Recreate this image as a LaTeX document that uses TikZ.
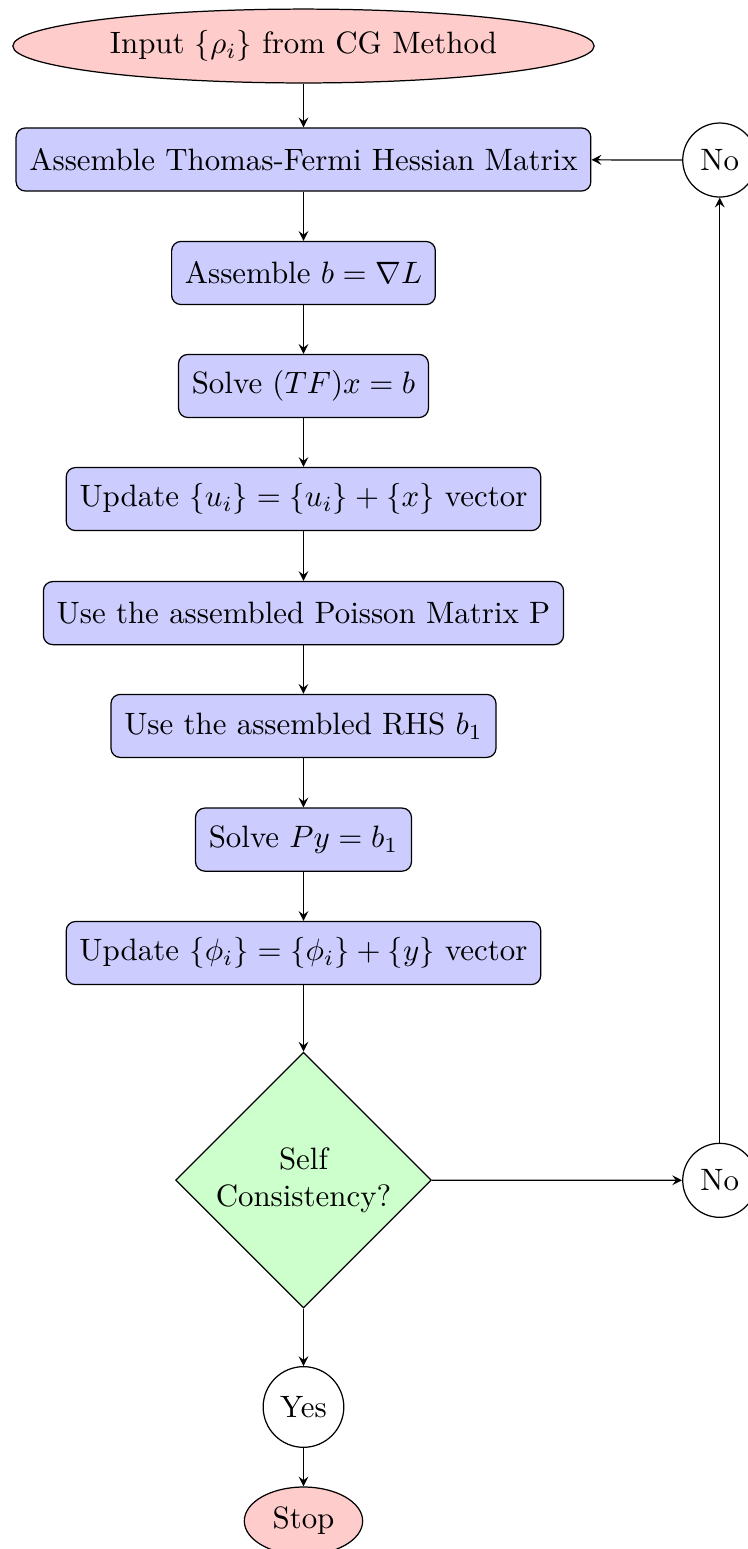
\documentclass[tikz,border=0pt]{standalone}
\usetikzlibrary{shapes.geometric}
\begin{document}
\begin{tikzpicture}[>=stealth,
  startstop/.style={ellipse, draw, fill=red!20, inner sep=0pt},
  procbox/.style={rectangle, rounded corners=3pt, draw, fill=blue!20, minimum height=20.4pt, inner xsep=4.3pt},
  decis/.style={diamond, draw, fill=green!20, minimum width=82.8pt, minimum height=82.8pt, inner sep=0pt, align=center},
  answer/.style={circle, draw, inner sep=0pt},
  conn/.style={->}
]
\useasboundingbox (-98.21pt,0pt) rectangle (143.52pt,-501.26pt);
\node[startstop, minimum width=188.1pt, minimum height=23.9pt] (input) at (0pt,-14.89pt) {Input $\{\rho_i\}$ from CG Method};
\node[procbox] (tf) at (0pt,-51.61pt) {Assemble Thomas-Fermi Hessian Matrix};
\node[procbox] (grad) at (0pt,-88.34pt) {Assemble $b=\nabla L$};
\node[procbox] (solve1) at (0pt,-124.9pt) {Solve $(TF)x=b$};
\node[procbox] (upd1) at (0pt,-161.5pt) {Update $\{u_i\}=\{u_i\}+\{x\}$ vector};
\node[procbox] (poisson) at (0pt,-198.4pt) {Use the assembled Poisson Matrix P};
\node[procbox] (rhs) at (0pt,-234.9pt) {Use the assembled RHS $b_1$};
\node[procbox] (solve2) at (0pt,-271.7pt) {Solve $Py=b_1$};
\node[procbox] (upd2) at (0pt,-308.4pt) {Update $\{\phi_i\}=\{\phi_i\}+\{y\}$ vector};
\node[decis] (self) at (0pt,-381.9pt) {Self\\Consistency?};
\node[answer, minimum size=23.95pt] (no2) at (134.7pt,-381.95pt) {No};
\node[answer, minimum size=23.95pt] (no1) at (134.7pt,-51.78pt) {No};
\node[answer, minimum size=26.1pt] (yes) at (0pt,-455.3pt) {Yes};
\node[startstop, minimum width=38.3pt, minimum height=22pt] (stop) at (0pt,-492.2pt) {Stop};
\draw[conn] (input) -- (tf);
\draw[conn] (tf) -- (grad);
\draw[conn] (grad) -- (solve1);
\draw[conn] (solve1) -- (upd1);
\draw[conn] (upd1) -- (poisson);
\draw[conn] (poisson) -- (rhs);
\draw[conn] (rhs) -- (solve2);
\draw[conn] (solve2) -- (upd2);
\draw[conn] (upd2) -- (self);
\draw[conn] (self) -- (no2);
\draw[conn] (no2) -- (no1);
\draw[conn] (no1) -- (tf);
\draw[conn] (self) -- (yes);
\draw[conn] (yes) -- (stop);
\end{tikzpicture}
\end{document}
